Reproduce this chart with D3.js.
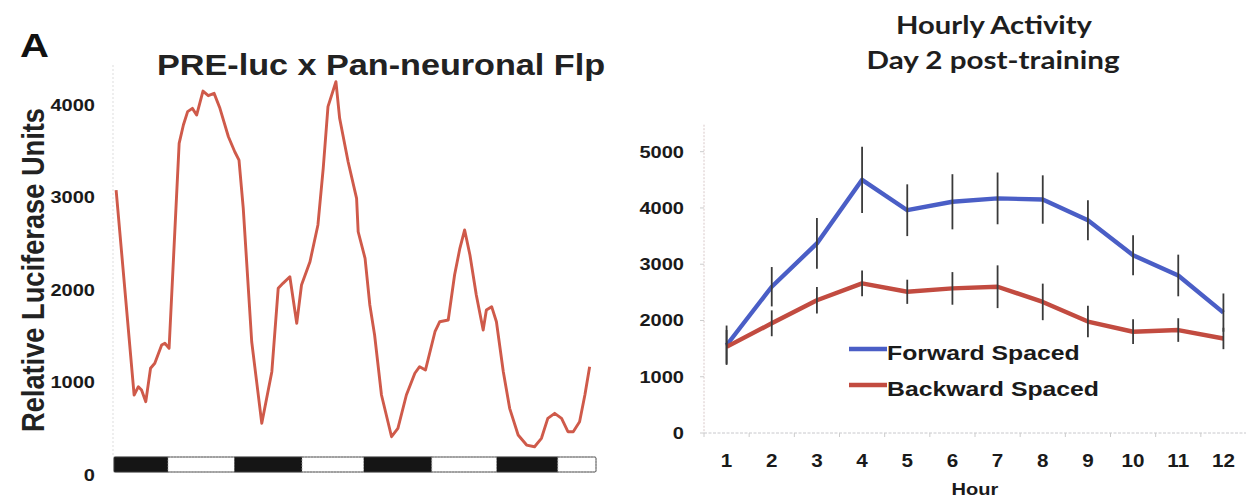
<!DOCTYPE html>
<html><head><meta charset="utf-8">
<script src="https://cdn.jsdelivr.net/npm/d3@7"></script>
<style>body{margin:0;background:#fff}svg{display:block}</style>
</head><body>
<svg id="c" width="1247" height="498"></svg>
<script>
// ---------- Panel A: luciferase trace ----------
const traceHours = [0.4,3.8,4.6,5.2,6.0,6.9,7.7,9.0,9.6,10.4,12.3,13.1,13.9,14.8,15.6,16.8,17.8,18.9,20.0,21.6,22.8,23.6,24.4,26.0,27.9,29.8,31.0,31.9,33.2,34.5,35.4,37.0,38.5,39.5,40.4,41.9,42.6,44.2,45.8,46.1,47.4,48.3,49.2,50.5,52.4,53.6,55.2,56.8,57.7,58.8,60.6,61.5,63.1,64.3,65.3,66.2,67.2,68.4,69.7,70.3,71.3,72.2,73.5,74.7,76.3,77.9,79.4,80.7,81.9,83.2,84.5,85.7,86.7,87.9,88.9,89.8];
const traceValues = [3070,854,944,908,782,1143,1197,1395,1413,1359,3575,3773,3917,3953,3881,4140,4090,4115,3953,3646,3484,3394,2875,1430,548,1106,2007,2061,2133,1629,2043,2295,2692,3305,3971,4241,3845,3376,2980,2619,2332,1827,1503,854,403,494,854,1089,1160,1124,1538,1646,1665,2151,2440,2638,2367,1935,1557,1773,1809,1646,1106,710,422,313,295,386,602,656,602,457,457,565,854,1160];
const lightStart = [0,10.2,22.8,35.5,47.2,60.0,72.3,83.8];
const lightEnd   = [10.2,22.8,35.5,47.2,60.0,72.3,83.8,91];
const lightDark  = [true,false,true,false,true,false,true,false];
const leftTicks = [0,1000,2000,3000,4000];

// ---------- Panel B: hourly activity ----------
const hours = [1,2,3,4,5,6,7,8,9,10,11,12];
const forwardMean = [1560,2600,3370,4500,3960,4110,4170,4150,3780,3160,2800,2140];
const forwardErr  = [350,350,450,590,460,490,460,430,355,355,370,340];
const backwardMean = [1530,1950,2360,2660,2510,2570,2600,2330,1980,1800,1830,1680];
const backwardErr  = [300,230,235,230,215,290,380,325,280,220,210,190];
const rightTicks = [0,1000,2000,3000,4000,5000];
const seriesNames = ["Forward Spaced","Backward Spaced"];

const SX = 1.18;
const svg = d3.select("#c");
const FONT = "'Liberation Sans', Arial, sans-serif";

function stext(x, y, str, size, anchor, opts={}) {
  const g = svg.append("g").attr("transform", `translate(${x},${y}) ${opts.rotate?`rotate(${opts.rotate})`:""} scale(${opts.rotate?1:SX},${opts.rotate?SX:1})`);
  const t = g.append("text").attr("x",0).attr("y",0).attr("text-anchor",anchor)
    .attr("font-family", opts.family || FONT).attr("font-weight","bold")
    .attr("font-size", size).attr("fill", opts.fill || "#1a1a1a").text(str);
  if (opts.len) t.attr("textLength", opts.len/ (opts.rotate?1:SX)).attr("lengthAdjust","spacingAndGlyphs");
  return t;
}

// ----- Left panel -----
const xL = d3.scaleLinear().domain([0,91]).range([114,596]);
const yL = d3.scaleLinear().domain([0,4000]).range([474,104]);

svg.append("line").attr("x1",113).attr("x2",113).attr("y1",65).attr("y2",456)
  .attr("stroke","#ddd").attr("stroke-width",1).attr("stroke-dasharray","2,2");

leftTicks.forEach(v => stext(95, yL(v)+6.5, String(v), 17, "end"));

stext(20, 57, "A", 34, "start", {fill:"#111"});
stext(381, 75, "PRE-luc x Pan-neuronal Flp", 29, "middle", {len:448, fill:"#222"});
stext(44, 270, "Relative Luciferase Units", 26, "middle", {rotate:-90, fill:"#222", len:324});

// light/dark bar
const barTop = yL(0) - 17, barH = 15;
svg.append("g").selectAll("rect").data(lightStart.map((s,i)=>({s, e:lightEnd[i], d:lightDark[i]})))
  .join("rect")
  .attr("x", d=>xL(d.s)).attr("y", barTop).attr("width", d=>xL(d.e)-xL(d.s)).attr("height", barH)
  .attr("fill", d=>d.d ? "#151515" : "#fff")
  .attr("stroke", d=>d.d ? "#151515" : "#aaa").attr("stroke-width", d=>d.d?0.5:0.8)
  .attr("stroke-dasharray", d=>d.d?null:"2,1");
svg.append("rect").attr("x", xL(0)).attr("y", barTop).attr("width", xL(91)-xL(0)).attr("height", barH)
  .attr("fill","none").attr("stroke","#444").attr("stroke-width",0.8).attr("rx",1.5);

const lineL = d3.line().x((d,i)=>xL(traceHours[i])).y(d=>yL(d));
svg.append("path").datum(traceValues).attr("d", lineL)
  .attr("fill","none").attr("stroke","#cf5a4a").attr("stroke-width",2.9).attr("stroke-linejoin","round");

// ----- Right panel -----
const xR = d3.scaleBand().domain(hours).range([704,1246]);
const yR = d3.scaleLinear().domain([0,5500]).range([433, 433-5.5*56.26]);
const cx = h => xR(h) + xR.bandwidth()/2;

svg.append("line").attr("x1",704).attr("x2",704).attr("y1",yR(5480)).attr("y2",yR(0))
  .attr("stroke","#d8c8c8").attr("stroke-width",1).attr("stroke-dasharray","2,1.5");
svg.append("line").attr("x1",704).attr("x2",1246).attr("y1",yR(0)).attr("y2",yR(0))
  .attr("stroke","#c8c8cc").attr("stroke-width",1).attr("stroke-dasharray","3,1.5");
svg.append("g").selectAll("line").data(rightTicks).join("line")
  .attr("x1",700).attr("x2",704).attr("y1",d=>yR(d)).attr("y2",d=>yR(d))
  .attr("stroke","#ccc").attr("stroke-width",1);
svg.append("g").selectAll("line").data(hours).join("line")
  .attr("x1",d=>xR(d)).attr("x2",d=>xR(d)).attr("y1",yR(0)).attr("y2",yR(0)+4)
  .attr("stroke","#ccc").attr("stroke-width",1);

rightTicks.forEach(v => stext(684, yR(v)+6, String(v), 17, "end"));
hours.forEach(h => stext(cx(h), 467, String(h), 17.5, "middle"));
stext(975, 495, "Hour", 17, "middle");

const TF = "Lato, 'Open Sans', sans-serif";
stext(994, 34, "Hourly Activity", 24, "middle", {family:TF, len:196, fill:"#1e1e1e"});
stext(993, 69, "Day 2 post-training", 24, "middle", {family:TF, len:253, fill:"#1e1e1e"});

const blue = "#4a5ec6", red = "#c24b40";
const lineR = d3.line().x((d,i)=>cx(hours[i])).y(d=>yR(d));
svg.append("path").datum(forwardMean).attr("d", lineR).attr("fill","none")
  .attr("stroke",blue).attr("stroke-width",4.4).attr("stroke-linejoin","round");
svg.append("path").datum(backwardMean).attr("d", lineR).attr("fill","none")
  .attr("stroke",red).attr("stroke-width",4.4).attr("stroke-linejoin","round");

const errG = svg.append("g").attr("stroke","#3a3a3a").attr("stroke-width",1.8);
errG.selectAll(".ef").data(hours).join("line").attr("class","ef")
  .attr("x1",h=>cx(h)).attr("x2",h=>cx(h))
  .attr("y1",(h,i)=>yR(forwardMean[i]+forwardErr[i])).attr("y2",(h,i)=>yR(forwardMean[i]-forwardErr[i]));
errG.selectAll(".eb").data(hours).join("line").attr("class","eb")
  .attr("x1",h=>cx(h)).attr("x2",h=>cx(h))
  .attr("y1",(h,i)=>yR(backwardMean[i]+backwardErr[i])).attr("y2",(h,i)=>yR(backwardMean[i]-backwardErr[i]));

// legend
[[blue,349,360],[red,385,396]].forEach(([c,ly,ty],i)=>{
  svg.append("line").attr("x1",849).attr("x2",887).attr("y1",ly).attr("y2",ly)
    .attr("stroke",c).attr("stroke-width",4.4);
  stext(887, ty, seriesNames[i], 21, "start", {fill:"#1a1a1a"});
});
</script>
</body></html>
